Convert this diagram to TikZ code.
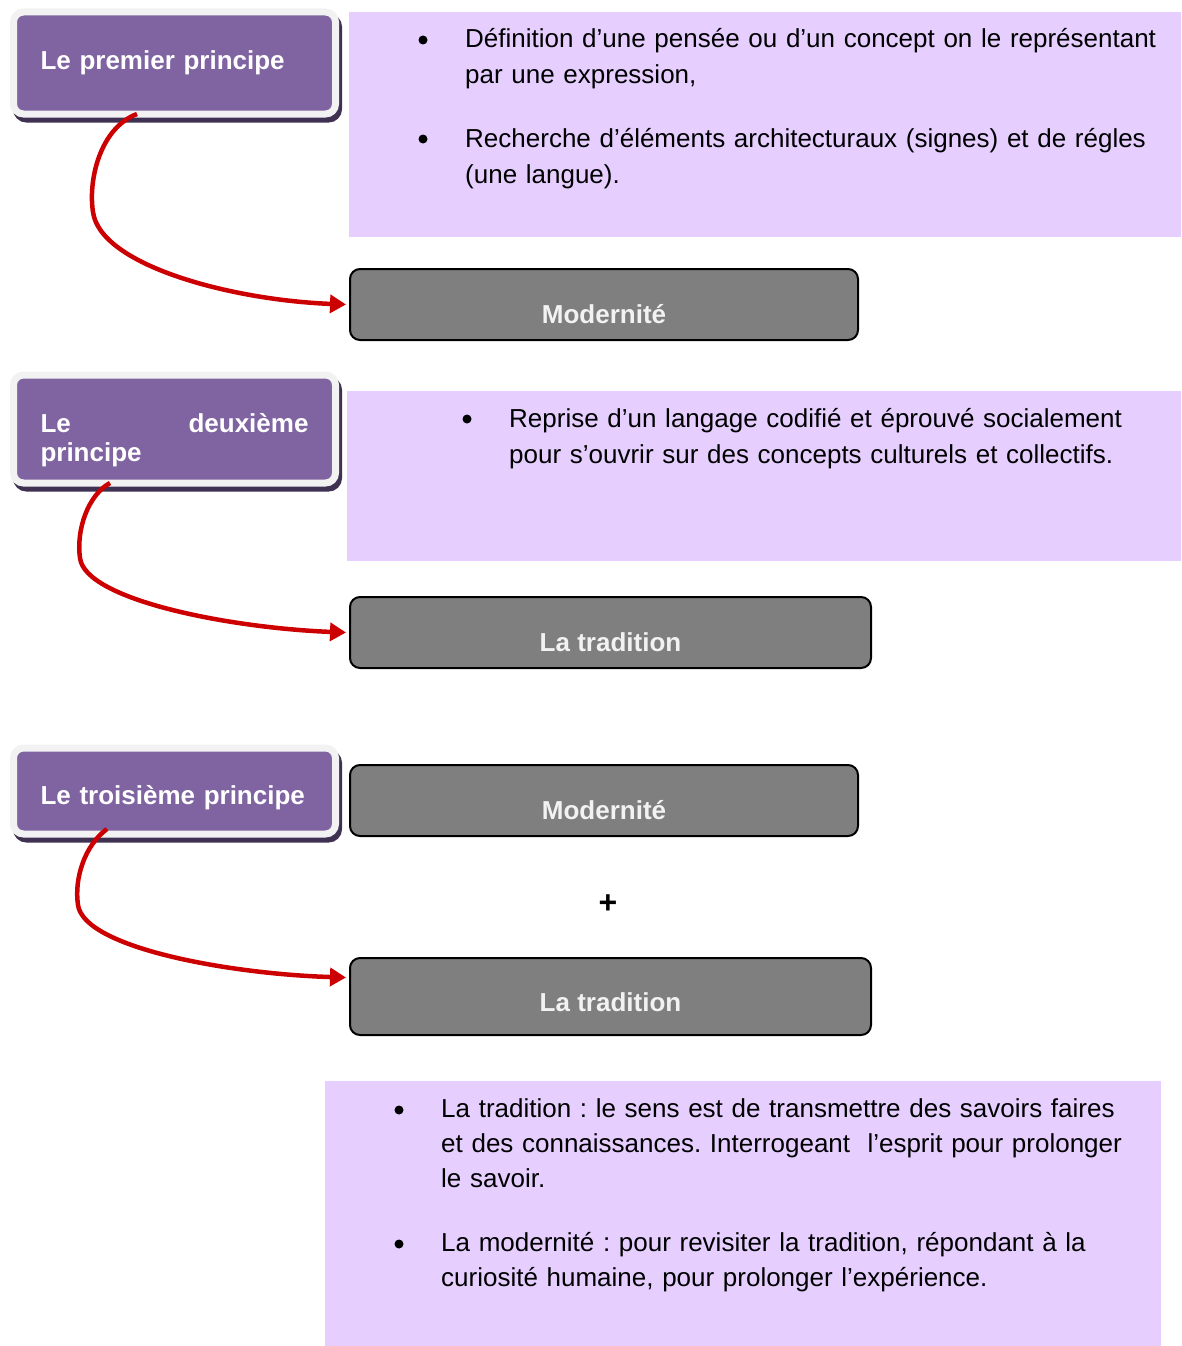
\documentclass[tikz,border=0pt]{standalone}
\usepackage{fontspec}
\setmainfont{Liberation Sans}
\usetikzlibrary{arrows.meta, shadows, positioning}

\definecolor{lavender}{HTML}{E6CFFF}
\definecolor{princfill}{HTML}{8064A2}
\definecolor{princedge}{HTML}{F2F2F2}
\definecolor{princshadow}{HTML}{3F3151}
\definecolor{boxgrey}{HTML}{7F7F7F}
\definecolor{arrowred}{HTML}{CC0000}
\frenchspacing

\begin{document}
\begin{tikzpicture}[x=1pt, y=-1pt,
    every node/.style={font=\fontsize{26}{36}\selectfont},
    principe/.style={rectangle, rounded corners=10pt, fill=princfill, draw=princedge, line width=7pt,
        outer sep=0pt, minimum width=322pt, text width=268pt, inner xsep=26pt, align=left, text=white,
        font=\bfseries\fontsize{26}{29}\selectfont,
        drop shadow={shadow xshift=3pt, shadow yshift=-5pt, fill=princshadow, draw=princshadow, line width=7pt, opacity=1}},
    greybox/.style={rectangle, rounded corners=10pt, draw=black, line width=2pt, fill=boxgrey,
        text=princedge, font=\bfseries\fontsize{26}{30}\selectfont, minimum height=71pt, text height=39pt, text depth=2pt},
    notebox/.style={rectangle, fill=lavender, inner sep=0pt},
    item/.style={anchor=base west, text width=760pt, align=left, inner sep=0pt},
    puce/.style={circle, fill=black, inner sep=0pt, minimum size=9pt},
    redarrow/.style={draw=arrowred, line width=4.5pt, -{Triangle[length=16pt, width=18pt]}}
]
\useasboundingbox (0,0) rectangle (1181,1346);

% notes
\node[notebox, minimum width=832pt, minimum height=225pt] (noteA) at (765,124.5) {};
\node[notebox, minimum width=834pt, minimum height=170pt] (noteB) at (764,476) {};
\node[notebox, minimum width=836pt, minimum height=265pt] (noteC) at (743,1213.5) {};

\node[puce] (pA1) at (423,40) {};
\node[item] (tA1) at (465,48) {Définition d’une pensée ou d’un concept on le représentant\\par une expression,};
\node[puce] (pA2) at (423,139) {};
\node[item] (tA2) at (465,147) {Recherche d’éléments architecturaux (signes) et de régles\\(une langue).};

\node[puce] (pB1) at (467,419) {};
\node[item] (tB1) at (509,427) {Reprise d’un langage codifié et éprouvé socialement\\pour s’ouvrir sur des concepts culturels et collectifs.};

\node[puce] (pC1) at (399,1110) {};
\node[item, font=\fontsize{26}{35}\selectfont] (tC1) at (441,1117) {La tradition : le sens est de transmettre des savoirs faires\\et des connaissances. Interrogeant \ l’esprit pour prolonger\\le savoir.};
\node[puce] (pC2) at (399,1244) {};
\node[item, font=\fontsize{26}{35}\selectfont] (tC2) at (441,1251) {La modernité : pour revisiter la tradition, répondant à la\\curiosité humaine, pour prolonger l’expérience.};

% grey boxes
\node[greybox, minimum width=508pt] (mod1) at (604,304.5) {Modernité};
\node[greybox, minimum width=521pt] (trad1) at (610.5,632.5) {La tradition};
\node[greybox, minimum width=508pt] (mod2) at (604,800.5) {Modernité};
\node[greybox, minimum width=521pt, minimum height=77pt, text height=31pt] (trad2) at (610.5,996.5) {La tradition};
\node[font=\bfseries\fontsize{32}{32}\selectfont] (plus) at (608,904) {+};

% principes
\node[principe, minimum height=102pt] (p1) at (174.5,63) {Le premier principe};
\node[principe, minimum height=108pt, text height=41pt, text depth=34pt] (p2) at (174.5,429) {\hbox to 268pt{Le\hfill deuxième}\\principe};
\node[principe, minimum height=86pt, text height=31pt, text depth=5pt] (p3) at (174.5,791) {Le troisième principe};

% arrows
\draw[redarrow] ([xshift=-37.5pt]p1.south) .. controls (100,128) and (88,180) .. (93,212)
    .. controls (100,265) and (230,300) .. ([xshift=-3pt]mod1.west);
\draw[redarrow] ([xshift=-64.5pt]p2.south) .. controls (88,495) and (76,530) .. (80,558)
    .. controls (85,600) and (230,628) .. ([xshift=-3pt]trad1.west);
\draw[redarrow] ([xshift=-67.5pt,yshift=5pt]p3.south) .. controls (85,845) and (74,878) .. (78,905)
    .. controls (84,948) and (230,974) .. ([xshift=-3pt,yshift=19pt]trad2.west);
\end{tikzpicture}
\end{document}
